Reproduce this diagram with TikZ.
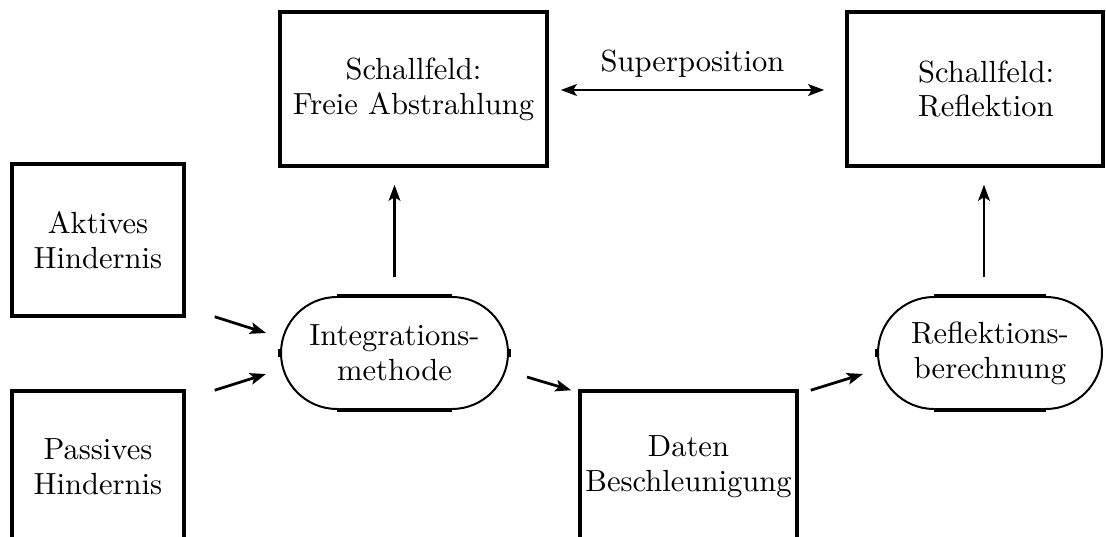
\documentclass[tikz,border=0pt]{standalone}
\usetikzlibrary{arrows.meta,shapes.misc,calc}
\begin{document}
\def\PX{0.327pt}
\begin{tikzpicture}[x=0.327pt,y=-0.327pt,
  every node/.style={font=\fontsize{10}{11.4}\selectfont, align=center},
  box/.style={draw, line width=1.15pt, inner sep=0pt},
  stad/.style={draw, line width=0.65pt, rounded rectangle, minimum height={112*\PX}, inner sep=0pt},
  arr/.style={-{Stealth[length=5.2pt,width=3.8pt,inset=1.1pt]}, line width=0.9pt},
  darr/.style={{Stealth[length=5.2pt,width=3.8pt,inset=1.1pt]}-{Stealth[length=5.2pt,width=3.8pt,inset=1.1pt]}, line width=0.9pt},
  thickseg/.style={line width=1.25pt}
]
\fill[white] (0,0) rectangle (1106,537);
\useasboundingbox (0,0) rectangle (1106,537);
\clip (0,0) rectangle (1106,537);

% boxes
\node[box, minimum width={172*\PX}, minimum height={152*\PX}] (akt) at (98,240) {Aktives\\Hindernis};
\node[box, minimum width={172*\PX}, minimum height={152*\PX}] (pas) at (98,467) {Passives\\Hindernis};
\node[box, minimum width={267*\PX}, minimum height={154*\PX}] (fre) at (413.5,89) {Schallfeld:\\Freie Abstrahlung};
\node[box, minimum width={256*\PX}, minimum height={154*\PX}] (ref) at (975,89) {};
\node (reftxt) at (986,89) {Schallfeld:\\Reflektion};
\node[box, minimum width={217*\PX}, minimum height={152*\PX}] (dat) at (688.5,467) {Daten\\Beschleunigung};

% stadiums
\node[stad, minimum width={227*\PX}] (int) at (394.5,353) {Integrations-\\methode};
\node[stad, minimum width={224*\PX}] (rb) at (990,353) {Reflektions-\\berechnung};

\draw[thickseg] ([xshift={-57.5*\PX}]int.north) -- ([xshift={57.5*\PX}]int.north);
\draw[thickseg] ([xshift={-57.5*\PX}]int.south) -- ([xshift={57.5*\PX}]int.south);
\draw[thickseg] ([yshift=-1.3pt]int.west) -- ([yshift=1.3pt]int.west);
\draw[thickseg] ([yshift=-1.3pt]int.east) -- ([yshift=1.3pt]int.east);
\draw[thickseg] ([xshift={-56*\PX}]rb.north) -- ([xshift={56*\PX}]rb.north);
\draw[thickseg] ([xshift={-56*\PX}]rb.south) -- ([xshift={56*\PX}]rb.south);
\draw[thickseg] ([yshift=-1.3pt]rb.west) -- ([yshift=1.3pt]rb.west);

% connectors
\draw[arr] ([shift={(29,-1)}]akt.south east) -- ([shift={(-14,-20)}]int.west);
\draw[arr] ([shift={(29,1)}]pas.north east) -- ([shift={(-14,21)}]int.west);
\draw[arr] ([shift={(18,24)}]int.east) -- ([shift={(-7,1)}]dat.north west);
\draw[arr] ([shift={(12,1)}]dat.north east) -- ([shift={(-14,21)}]rb.west);
\draw[arr] ([shift={(0,-19)}]int.north) -- ([shift={(0,17)}]int.north |- fre.south);
\draw[arr] ([shift={(-6,-19)}]rb.north) -- ([shift={(-6,17)}]rb.north |- ref.south);
\draw[darr] ([shift={(12,1)}]fre.east) -- node[above=0.4pt] (sup) {Superposition} ([shift={(-21,1)}]ref.west);
\end{tikzpicture}
\end{document}
